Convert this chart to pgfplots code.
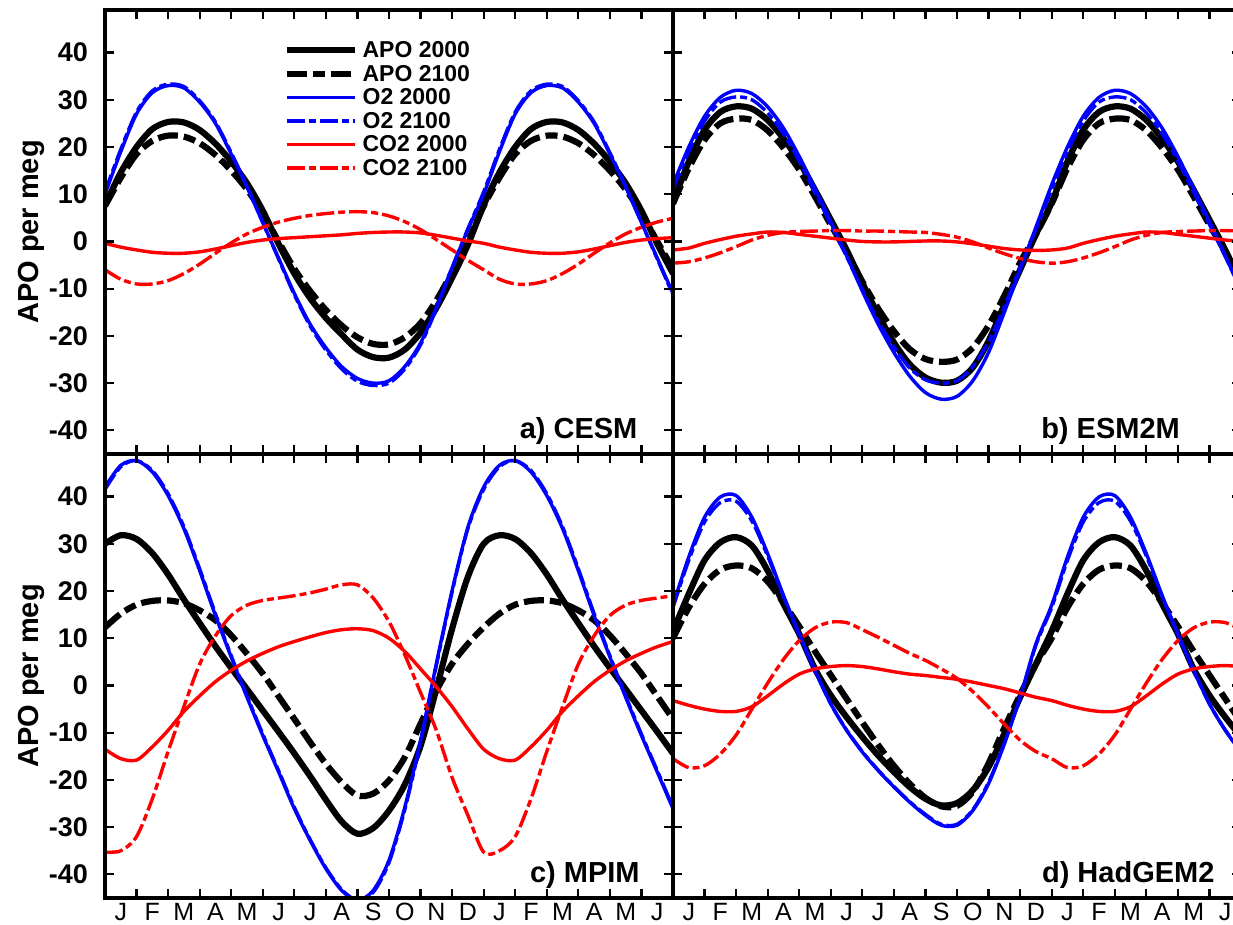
\documentclass[border=0pt]{standalone}
\usepackage{pgfplots}
\pgfplotsset{compat=1.18}
\usepackage{pgfplotstable}
\usepackage{fontspec}
\setmainfont{Liberation Sans}

% columns: m APO2000 APO2100 O2_2000 O2_2100 CO2_2000 CO2_2100
\pgfplotstableread{
m A0 A1 O0 O1 C0 C1
0 7.7 7.5 10 10.5 -0.4 -6
0.5 14.6 13.5 19 19.5 -1.2 -8
1 20 18.5 27 27.4 -1.8 -9
1.5 23.8 21.3 31.5 31.9 -2.3 -9
2 25.3 22.4 33 33.3 -2.5 -8.3
2.5 25.2 22.2 32.5 32.8 -2.5 -6.8
3 23.6 20.8 29.5 29.8 -2.2 -4.8
3.5 20.7 18.3 25 25.3 -1.6 -2.5
4 16.9 15 18.5 18.8 -0.9 -0.3
4.5 12.3 11 11.5 11.7 -0.2 1.6
5 6.5 6 4 4 0.3 3.0
5.5 -0.5 0 -3.5 -3.7 0.6 4.1
6 -6.8 -5.8 -11 -11.3 0.8 4.9
6.5 -12 -10.5 -17.5 -17.9 1.0 5.5
7 -16.2 -14.5 -22.5 -23 1.2 5.9
7.5 -19.7 -17.8 -26.5 -27 1.4 6.2
8 -22.9 -20.3 -29 -29.6 1.7 6.3
8.5 -24.5 -21.7 -30 -30.5 1.9 6.1
9 -24.6 -21.8 -29.5 -30 2.0 5.4
9.5 -22.9 -20.3 -26.5 -27 2.0 4.2
10 -19.3 -17.3 -21.5 -21.9 1.8 2.5
10.5 -14.1 -12.5 -14 -14.3 1.3 0.4
11 -7.7 -6.5 -5.5 -5.6 0.7 -1.8
11.5 -0.7 0 2.5 2.7 0.1 -4
12 7.7 7.5 10 10.5 -0.4 -6
12.5 14.6 13.5 19 19.5 -1.2 -8
13 20 18.5 27 27.4 -1.8 -9
13.5 23.8 21.3 31.5 31.9 -2.3 -9
14 25.3 22.4 33 33.3 -2.5 -8.3
14.5 25.2 22.2 32.5 32.8 -2.5 -6.8
15 23.6 20.8 29.5 29.8 -2.2 -4.8
15.5 20.7 18.3 25 25.3 -1.6 -2.5
16 16.9 15 18.5 18.8 -0.9 -0.3
16.5 12.3 11 11.5 11.7 -0.2 1.6
17 6.5 6 4 4 0.3 3.0
17.5 -0.5 0 -3.5 -3.7 0.6 4.1
18 -6.8 -5.8 -11 -11.3 0.8 4.9
}\tabA

\pgfplotstableread{
m A0 A1 O0 O1 C0 C1
0 8.2 8 12 11 -1.8 -4.6
0.5 16.9 15.5 20 19 -1.4 -4.3
1 23.6 21.5 26.5 25.5 -0.4 -3.5
1.5 27.4 25 30.5 29.5 0.4 -2.4
2 28.6 26 32 30.6 1.1 -1.1
2.5 28.1 25.7 31.3 30 1.6 0.3
3 25.7 23.5 28.5 27.2 2.0 1.3
3.5 21.8 19.8 24 22.8 1.9 1.9
4 16.9 15.2 18 17 1.5 2.1
4.5 10.9 9.5 11.2 10.4 1.1 2.2
5 4.6 3.5 4.2 3.6 0.7 2.3
5.5 -1.8 -2.2 -3 -3.2 0.3 2.3
6 -8.8 -8.5 -10.5 -10.2 0 2.2
6.5 -15.5 -14.2 -17.5 -16.8 -0.1 2.2
7 -21.4 -19 -23.5 -22.3 -0.1 2.1
7.5 -26 -22.8 -28.5 -26.8 0 2.0
8 -28.8 -24.9 -32 -29.3 0.1 1.9
8.5 -29.9 -25.5 -33.4 -30 0.1 1.5
9 -29.5 -25 -32.8 -29.5 -0.1 0.9
9.5 -26.7 -22.5 -29.5 -26.5 -0.5 -0.1
10 -21.1 -17.8 -23.5 -21.2 -1.0 -1.4
10.5 -13.4 -11.5 -15 -13.8 -1.5 -2.6
11 -6 -4.5 -6 -5.5 -1.8 -3.6
11.5 1.5 1.5 3 2.5 -1.9 -4.3
12 8.2 8 12 11 -1.8 -4.6
12.5 16.9 15.5 20 19 -1.4 -4.3
13 23.6 21.5 26.5 25.5 -0.4 -3.5
13.5 27.4 25 30.5 29.5 0.4 -2.4
14 28.6 26 32 30.6 1.1 -1.1
14.5 28.1 25.7 31.3 30 1.6 0.3
15 25.7 23.5 28.5 27.2 2.0 1.3
15.5 21.8 19.8 24 22.8 1.9 1.9
16 16.9 15.2 18 17 1.5 2.1
16.5 10.9 9.5 11.2 10.4 1.1 2.2
17 4.6 3.5 4.2 3.6 0.7 2.3
17.5 -1.8 -2.2 -3 -3.2 0.3 2.3
18 -8.8 -8.5 -10.5 -10.2 0 2.2
}\tabB

\pgfplotstableread{
m A0 A1 O0 O1 C0 C1
0 30 12.3 42 41.5 -13.5 -35.3
0.5 31.8 15.2 46.6 46.3 -15.5 -35
1 31 17.1 47.6 47.6 -15.8 -32
1.5 28 17.9 45.2 45.5 -13 -24
2 23.5 18 40.2 40.6 -9.5 -14
2.5 18.2 17.4 33.2 33.6 -5.5 -4.5
3 13.2 15.9 24.3 24.7 -2.2 4.5
3.5 8.3 13.8 14.8 15.2 0.8 10.5
4 3.7 10.6 6 6.3 3.2 14.8
4.5 -0.8 6.7 -2.5 -2.2 5.2 17
5 -5.3 2.5 -10.6 -10.3 6.8 18
5.5 -9.8 -2.3 -18.3 -18 8.2 18.5
6 -14.4 -7.1 -26.1 -25.8 9.3 19
6.5 -19.2 -12 -32.8 -32.6 10.3 19.6
7 -24.2 -16.6 -38.8 -38.6 11.2 20.4
7.5 -28.8 -20.5 -43.4 -43.2 11.8 21.3
8 -31.4 -23.3 -45.5 -45.5 12 21.3
8.5 -30.2 -22.9 -43.4 -43.8 11.6 18.5
9 -26.5 -20.1 -37 -37.5 10 13.5
9.5 -21 -15.2 -25.8 -26.3 7.2 6.5
10 -12.8 -8.1 -11.6 -12 3.5 -1.5
10.5 -0.8 -1.1 4.6 4.2 -0.3 -9.5
11 12 4.6 20.1 19.8 -4.5 -19.5
11.5 23 8.8 33.5 33.2 -9.2 -27.5
12 30 12.3 42 41.5 -13.5 -35.3
12.5 31.8 15.2 46.6 46.3 -15.5 -35
13 31 17.1 47.6 47.6 -15.8 -32
13.5 28 17.9 45.2 45.5 -13 -24
14 23.5 18 40.2 40.6 -9.5 -14
14.5 18.2 17.4 33.2 33.6 -5.5 -4.5
15 13.2 15.9 24.3 24.7 -2.2 4.5
15.5 8.3 13.8 14.8 15.2 0.8 10.5
16 3.7 10.6 6 6.3 3.2 14.8
16.5 -0.8 6.7 -2.5 -2.2 5.2 17
17 -5.3 2.5 -10.6 -10.3 6.8 18
17.5 -9.8 -2.3 -18.3 -18 8.2 18.5
18 -14.4 -7.1 -26.1 -25.8 9.3 19
}\tabC

\pgfplotstableread{
m A0 A1 O0 O1 C0 C1
0 11.5 10 17 16.5 -3.2 -15.5
0.5 19.4 16.5 27.2 26.5 -4.2 -17.4
1 26.5 21.5 35.6 34.6 -5 -17
1.5 30.3 24.5 39.9 38.7 -5.5 -14.5
2 31.4 25.4 40.2 39 -5.5 -10.5
2.5 29.6 24.8 35.6 34.8 -4.5 -5
3 24.3 22 27.9 27.4 -2.2 0.5
3.5 17.3 17.5 19.1 18.8 0.3 5.5
4 10.9 12.5 10.9 10.7 2.4 9.5
4.5 3.5 7.2 3.2 3.1 3.5 12.2
5 -2.1 2.2 -3.9 -3.9 4 13.4
5.5 -6.7 -2.8 -9.5 -9.4 4.2 13.3
6 -10.9 -7.8 -14.1 -14 4 11.8
6.5 -14.8 -12.6 -18 -17.9 3.5 10.2
7 -18.3 -17 -21.5 -21.4 2.9 8.5
7.5 -21.5 -20.8 -24.7 -24.6 2.4 6.8
8 -24 -23.8 -27.5 -27.3 2.1 5.3
8.5 -25.4 -25.6 -29.6 -29.4 1.7 3.5
9 -24.9 -25.5 -29.6 -29.4 1.3 1.5
9.5 -22.2 -22.5 -26.5 -26.3 0.7 -1.3
10 -17.3 -16.5 -20.8 -20.5 0 -4.6
10.5 -10.2 -9 -12.4 -12.2 -0.7 -8.2
11 -2.5 -2 -2.5 -2.5 -1.6 -11.6
11.5 4.5 4.5 8.8 8.5 -2.5 -14
12 11.5 10 17 16.5 -3.2 -15.5
12.5 19.4 16.5 27.2 26.5 -4.2 -17.4
13 26.5 21.5 35.6 34.6 -5 -17
13.5 30.3 24.5 39.9 38.7 -5.5 -14.5
14 31.4 25.4 40.2 39 -5.5 -10.5
14.5 29.6 24.8 35.6 34.8 -4.5 -5
15 24.3 22 27.9 27.4 -2.2 0.5
15.5 17.3 17.5 19.1 18.8 0.3 5.5
16 10.9 12.5 10.9 10.7 2.4 9.5
16.5 3.5 7.2 3.2 3.1 3.5 12.2
17 -2.1 2.2 -3.9 -3.9 4 13.4
17.5 -6.7 -2.8 -9.5 -9.4 4.2 13.3
18 -10.9 -7.8 -14.1 -14 4 11.8
}\tabD

\tikzset{
  apoA/.style={black, line width=3.1pt},
  apoB/.style={black, line width=3.1pt, dash pattern=on 10pt off 3pt on 6pt off 3pt},
  otA/.style={blue, line width=1.7pt},
  otB/.style={blue, line width=1.7pt, dash pattern=on 9pt off 2pt on 3.5pt off 2pt},
  coA/.style={red, line width=1.7pt},
  coB/.style={red, line width=1.7pt, dash pattern=on 9pt off 2pt on 3.5pt off 2pt},
  plab/.style={anchor=base east, font=\fontsize{14.5}{15}\selectfont\bfseries, inner sep=0pt},
}
\pgfplotsset{
  panel/.style={
    scale only axis, width=284pt, height=222pt,
    xmin=0, xmax=18, ymin=-45, ymax=49,
    axis on top,
    axis line style={line width=1.6pt},
    xtick={0,1,...,18},
    xticklabel={\mbox{}},
    ytick={-40,-30,...,40},
    every tick/.style={black, line width=1.1pt},
    major tick length=4.5pt,
    tick pos=both, tick align=inside,
  },
  bottomrow/.style={
    extra x ticks={0.5,1.5,...,17.5},
    extra x tick labels={J,F,M,A,M,J,J,A,S,O,N,D,J,F,M,A,M,J},
    extra x tick style={major tick length=0pt,
      xticklabel style={font=\fontsize{12.5}{13}\selectfont, yshift=1pt}},
  },
  leftcol/.style={
    yticklabels={-40,-30,-20,-10,0,10,20,30,40},
    yticklabel style={font=\fontsize{13.5}{14}\selectfont\bfseries, xshift=-5pt},
    ylabel={APO per meg},
    every axis y label/.style={at={(axis description cs:0,0.5)}, xshift=-37pt, rotate=90, anchor=center, font=\fontsize{14.5}{15}\selectfont\bfseries},
  },
  rightcol/.style={yticklabel={\mbox{}}},
}

\begin{document}
\begin{tikzpicture}
% a) CESM
\begin{axis}[panel, leftcol, at={(0pt,222pt)}, anchor=south west,
  legend style={at={(0.3134,0.9336)}, anchor=north west, draw=none, fill=none, inner sep=0pt, row sep=1.25pt,
    font=\fontsize{11.5}{12}\selectfont\bfseries,
    nodes={inner xsep=2.5pt, inner ysep=0pt, text height=9pt, text depth=1.5pt}},
  legend cell align=left,
  legend image code/.code={\draw[#1,line cap=butt] (0pt,0pt) -- (34pt,0pt);}]
\addlegendimage{apoA}\addlegendentry{APO 2000}
\addlegendimage{apoB}\addlegendentry{APO 2100}
\addlegendimage{otA}\addlegendentry{O2 2000}
\addlegendimage{otB}\addlegendentry{O2 2100}
\addlegendimage{coA}\addlegendentry{CO2 2000}
\addlegendimage{coB}\addlegendentry{CO2 2100}
\addplot[apoA, smooth, forget plot] table[x=m,y=A0]{\tabA};
\addplot[apoB, smooth, forget plot] table[x=m,y=A1]{\tabA};
\addplot[otA, smooth, forget plot] table[x=m,y=O0]{\tabA};
\addplot[otB, smooth, forget plot] table[x=m,y=O1]{\tabA};
\addplot[coA, smooth, forget plot] table[x=m,y=C0]{\tabA};
\addplot[coB, smooth, forget plot] table[x=m,y=C1]{\tabA};
\node[plab] at (rel axis cs:0.938,0.035) {a) CESM};
\end{axis}
% b) ESM2M
\begin{axis}[panel, rightcol, at={(284pt,222pt)}, anchor=south west]
\addplot[apoA, smooth] table[x=m,y=A0]{\tabB};
\addplot[apoB, smooth] table[x=m,y=A1]{\tabB};
\addplot[otA, smooth] table[x=m,y=O0]{\tabB};
\addplot[otB, smooth] table[x=m,y=O1]{\tabB};
\addplot[coA, smooth] table[x=m,y=C0]{\tabB};
\addplot[coB, smooth] table[x=m,y=C1]{\tabB};
\node[plab] at (rel axis cs:0.893,0.035) {b) ESM2M};
\end{axis}
% c) MPIM
\begin{axis}[panel, bottomrow, leftcol, at={(0pt,0pt)}, anchor=south west]
\addplot[apoA, smooth] table[x=m,y=A0]{\tabC};
\addplot[apoB, smooth] table[x=m,y=A1]{\tabC};
\addplot[otA, smooth] table[x=m,y=O0]{\tabC};
\addplot[otB, smooth] table[x=m,y=O1]{\tabC};
\addplot[coA, smooth] table[x=m,y=C0]{\tabC};
\addplot[coB, smooth] table[x=m,y=C1]{\tabC};
\node[plab] at (rel axis cs:0.942,0.034) {c) MPIM};
\end{axis}
% d) HadGEM2
\begin{axis}[panel, bottomrow, rightcol, at={(284pt,0pt)}, anchor=south west]
\addplot[apoA, smooth] table[x=m,y=A0]{\tabD};
\addplot[apoB, smooth] table[x=m,y=A1]{\tabD};
\addplot[otA, smooth] table[x=m,y=O0]{\tabD};
\addplot[otB, smooth] table[x=m,y=O1]{\tabD};
\addplot[coA, smooth] table[x=m,y=C0]{\tabD};
\addplot[coB, smooth] table[x=m,y=C1]{\tabD};
\node[plab] at (rel axis cs:0.954,0.034) {d) HadGEM2};
\end{axis}
\pgfresetboundingbox
\path[use as bounding box] (-52.5pt,-13.5pt) rectangle (564pt,449pt);
\end{tikzpicture}
\end{document}
